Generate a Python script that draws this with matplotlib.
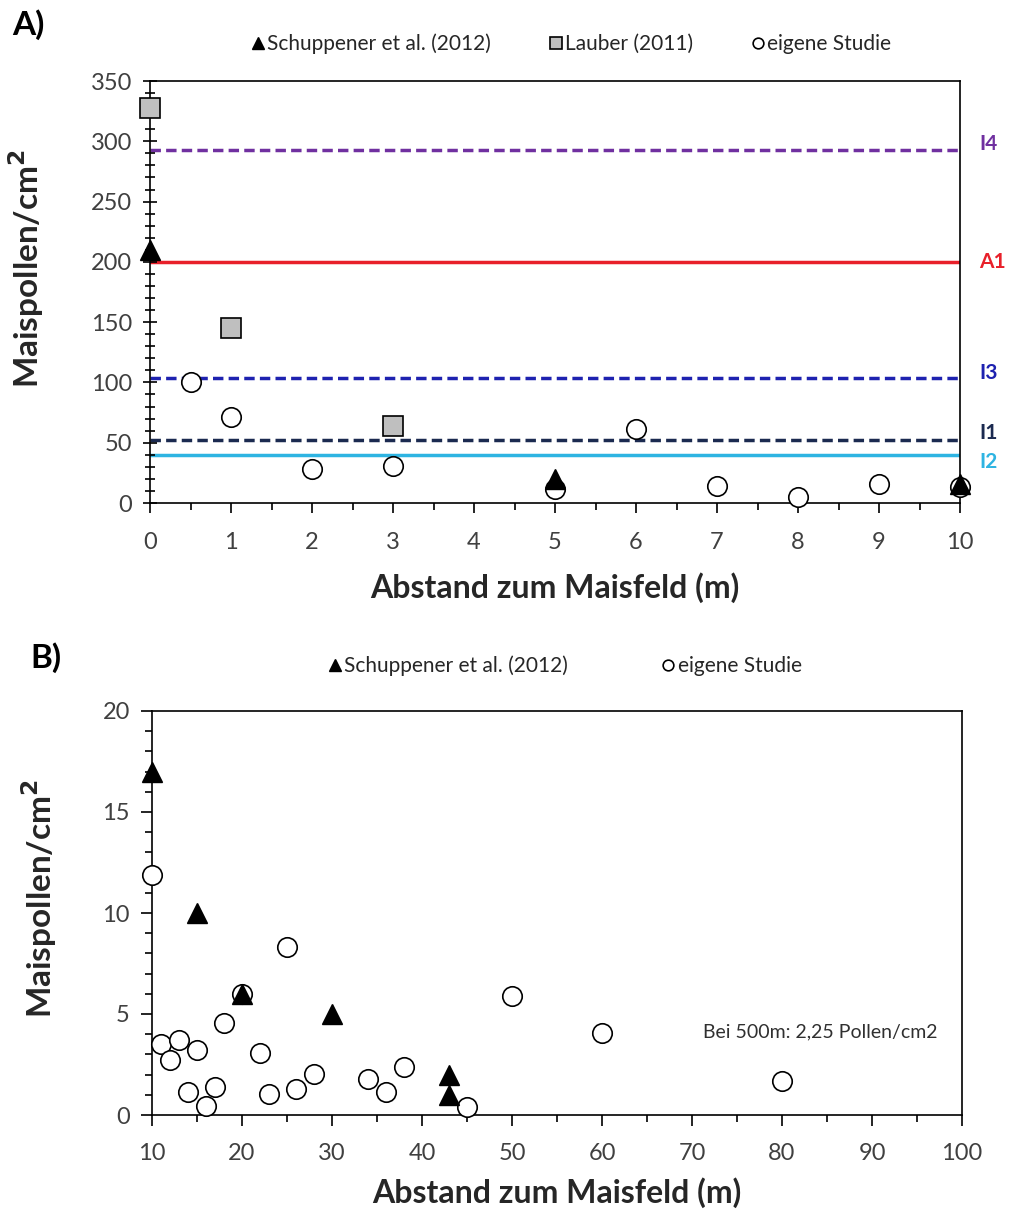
import numpy as np
import matplotlib.pyplot as plt

plt.rcParams['font.family'] = ['Lato', 'DejaVu Sans']

# Panel A data (0-10 m)
a_schupp_x = [0, 5, 10]
a_schupp_y = [210, 20, 16]
a_lauber_x = [0, 1, 3]
a_lauber_y = [328, 145, 64]
a_eigene_x = [0.5, 1, 2, 3, 5, 6, 7, 8, 9, 10]
a_eigene_y = [100, 71, 28, 31, 12, 61, 14, 5, 16, 13]

# threshold lines
thr_names = ['I4', 'A1', 'I3', 'I1', 'I2']
thr_values = [293, 200, 104, 52, 40]
thr_colors = ['#7030A0', '#E8202A', '#1E22B0', '#1B2A50', '#2EB4E2']
thr_styles = ['--', '-', '--', '--', '-']
thr_label_shift = [4, 0, 3, 5, -5]  # points, so I1/I2 don't collide

# Panel B data (10-100 m)
b_schupp_x = [10, 15, 20, 30, 43, 43]
b_schupp_y = [17, 10, 6, 5, 2, 1]
b_eigene_x = [10, 11, 12, 13, 14, 15, 16, 17, 18, 20, 22, 23, 25, 26, 28,
              34, 36, 38, 45, 50, 60, 80]
b_eigene_y = [11.9, 3.5, 2.7, 3.7, 1.15, 3.2, 0.45, 1.4, 4.55, 6.0, 3.05, 1.05,
              8.3, 1.3, 2.05, 1.8, 1.15, 2.4, 0.4, 5.9, 4.05, 1.7]

lbl_schupp = 'Schuppener et al. (2012)'
lbl_lauber = 'Lauber (2011)'
lbl_eigene = 'eigene Studie'

fig = plt.figure(figsize=(10.11, 12.13), dpi=100)
axA = fig.add_axes([150 / 1011, 1 - 503 / 1213, 810 / 1011, 422 / 1213])
axB = fig.add_axes([152 / 1011, 1 - 1115 / 1213, 810 / 1011, 404 / 1213])

# ---- panel A
for name, val, col, ls, sh in zip(thr_names, thr_values, thr_colors, thr_styles, thr_label_shift):
    axA.axhline(val, color=col, linestyle=ls, linewidth=2.5,
                dashes=(3, 1.5) if ls == '--' else (None, None), zorder=1)
    axA.annotate(name, xy=(1.0, val), xycoords=axA.get_yaxis_transform(),
                 xytext=(14, sh), textcoords='offset points', color=col,
                 fontsize=15, fontweight='bold', va='center', ha='left')

axA.plot(a_eigene_x, a_eigene_y, 'o', ms=14, mfc='white', mec='black', mew=1.2,
         clip_on=False, zorder=3, label=lbl_eigene)
axA.plot(a_lauber_x, a_lauber_y, 's', ms=15, mfc='#BFBFBF', mec='black', mew=1.2,
         clip_on=False, zorder=4, label=lbl_lauber)
axA.plot(a_schupp_x, a_schupp_y, '^', ms=15, mfc='black', mec='black',
         clip_on=False, zorder=5, label=lbl_schupp)

axA.set_xlim(0, 10)
axA.set_ylim(0, 350)
axA.set_xticks(np.arange(0, 11, 1))
axA.set_xticks(np.arange(0, 10.5, 0.5), minor=True)
axA.set_yticks(np.arange(0, 351, 50))
axA.set_yticks(np.arange(0, 351, 10), minor=True)
axA.tick_params(axis='x', which='major', direction='out', length=7, width=1.2, labelsize=17, pad=14, color='black', labelcolor='#404040')
axA.tick_params(axis='x', which='minor', direction='out', length=5, width=1.2, color='black')
axA.tick_params(axis='y', which='major', direction='inout', length=10, width=1.2, labelsize=17, pad=8, color='black', labelcolor='#404040')
axA.tick_params(axis='y', which='minor', direction='inout', length=7, width=1.2, color='black')
axA.set_xlabel('Abstand zum Maisfeld (m)', fontsize=23, fontweight='bold', labelpad=14, color='#262626')
axA.set_ylabel('Maispollen/cm$^\\mathbf{2}$', fontsize=24, fontweight='bold', color='#262626')
axA.yaxis.set_label_coords(-0.128, 0.557)
for s in axA.spines.values():
    s.set_linewidth(1.2)

h, l = axA.get_legend_handles_labels()
axA.legend(h[::-1], l[::-1], loc='lower center', bbox_to_anchor=(0.52, 1.02), ncol=3,
           frameon=False, fontsize=15, markerscale=0.55, handlelength=0.6,
           handletextpad=0.15, columnspacing=2.8, labelcolor='#262626')

fig.text(12 / 1011, 1 - 25 / 1213, 'A)', fontsize=24, fontweight='bold', va='center')

# ---- panel B
axB.plot(b_eigene_x, b_eigene_y, 'o', ms=14, mfc='white', mec='black', mew=1.2,
         clip_on=False, zorder=3, label=lbl_eigene)
axB.plot(b_schupp_x, b_schupp_y, '^', ms=15, mfc='black', mec='black',
         clip_on=False, zorder=5, label=lbl_schupp)

axB.text(71.2, 4.1, 'Bei 500m: 2,25 Pollen/cm2', fontsize=14, color='#303030',
         va='center', ha='left')

axB.set_xlim(10, 100)
axB.set_ylim(0, 20)
axB.set_xticks(np.arange(10, 101, 10))
axB.set_xticks(np.arange(10, 101, 5), minor=True)
axB.set_yticks(np.arange(0, 21, 5))
axB.set_yticks(np.arange(0, 21, 1), minor=True)
axB.tick_params(axis='both', which='major', direction='out', length=8, width=1.2, labelsize=17, color='black', labelcolor='#404040')
axB.tick_params(axis='both', which='minor', direction='out', length=5, width=1.2, color='black')
axB.tick_params(axis='x', which='major', pad=12)
axB.tick_params(axis='y', which='major', pad=8)
axB.set_xlabel('Abstand zum Maisfeld (m)', fontsize=23, fontweight='bold', labelpad=10, color='#262626')
axB.set_ylabel('Maispollen/cm$^\\mathbf{2}$', fontsize=24, fontweight='bold', color='#262626')
axB.yaxis.set_label_coords(-0.115, 0.535)
for s in axB.spines.values():
    s.set_linewidth(1.2)

h, l = axB.get_legend_handles_labels()
axB.legend(h[::-1], l[::-1], loc='lower center', bbox_to_anchor=(0.51, 1.04), ncol=2,
           frameon=False, fontsize=15, markerscale=0.55, handlelength=0.6,
           handletextpad=0.15, columnspacing=4.5, labelcolor='#262626')

fig.text(30 / 1011, 1 - 658 / 1213, 'B)', fontsize=24, fontweight='bold', va='center')

fig.savefig('out.png', dpi=100)
